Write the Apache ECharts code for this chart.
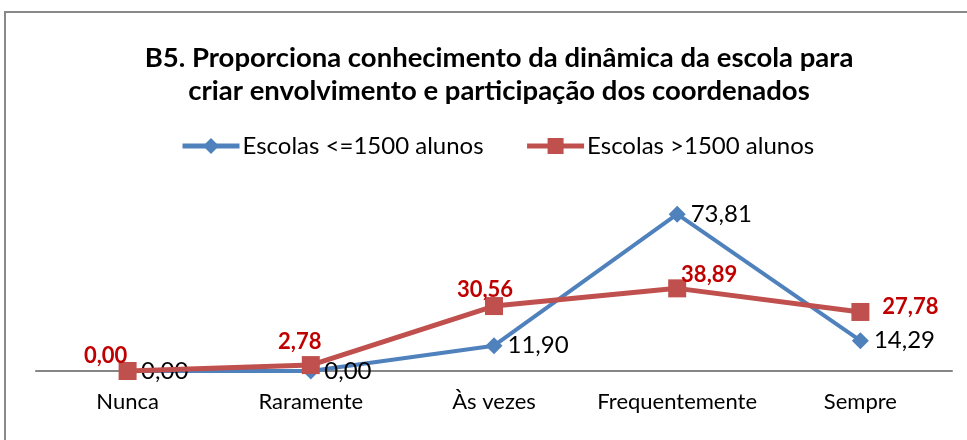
<!DOCTYPE html>
<html>
<head>
<meta charset="utf-8">
<script src="https://cdn.jsdelivr.net/npm/echarts@6/dist/echarts.min.js"></script>
<style>
  html, body { margin: 0; padding: 0; background: #fff; }
  #chart { width: 967px; height: 440px; }
</style>
</head>
<body>
<div id="chart"></div>
<script>
const categories = ['Nunca', 'Raramente', 'Às vezes', 'Frequentemente', 'Sempre']
const seriesNames = ['Escolas <=1500 alunos', 'Escolas >1500 alunos']
const smallSchools = [0.00, 0.00, 11.90, 73.81, 14.29]
const bigSchools = [0.00, 2.78, 30.56, 38.89, 27.78]

// where each red label sits relative to its marker
const bigLabelOffsets = [[-22, -15], [-11, -23], [-9, -16], [32, -13], [50, -5]]

const fontFamily = 'Lato, "Open Sans", sans-serif'
const fmt = (v) => v.toFixed(2).replace('.', ',')

const chart = echarts.init(document.getElementById('chart'), null, { renderer: 'canvas' })

chart.setOption({
  animation: false,
  backgroundColor: '#fff',
  graphic: [{
    type: 'rect',
    shape: { x: 5, y: 12, width: 1000, height: 500 },
    style: { fill: 'none', stroke: '#898989', lineWidth: 2 },
    silent: true
  }],
  title: {
    text: 'B5. Proporciona conhecimento da dinâmica da escola para\ncriar envolvimento e participação dos coordenados',
    left: 494,
    textAlign: 'center',
    top: 37,
    textStyle: {
      fontFamily,
      fontSize: 27.5,
      fontWeight: 'bold',
      color: '#000',
      lineHeight: 33
    }
  },
  legend: {
    data: [
      { name: seriesNames[0], lineStyle: { width: 5 } },
      { name: seriesNames[1], lineStyle: { width: 5 } }
    ],
    left: 175,
    top: 129,
    itemWidth: 57,
    itemHeight: 20,
    itemGap: 41,
    textStyle: { fontFamily, fontSize: 24, color: '#000', padding: [0, 0, 0, -2] }
  },
  grid: {
    left: 36,
    right: 15,
    top: 201,
    bottom: 69
  },
  xAxis: {
    type: 'category',
    data: categories,
    boundaryGap: true,
    axisLine: { lineStyle: { color: '#868686', width: 2 } },
    axisTick: { show: false },
    axisLabel: { interval: 0, hideOverlap: false, fontFamily, fontSize: 22, color: '#000', margin: 20 }
  },
  yAxis: {
    type: 'value',
    min: 0,
    max: 80,
    show: false,
    splitLine: { show: false }
  },
  series: [{
    name: seriesNames[0],
    type: 'line',
    data: smallSchools,
    symbol: 'diamond',
    symbolSize: 17,
    itemStyle: { color: '#4F81BD' },
    lineStyle: { color: '#4F81BD', width: 4 },
    label: {
      show: true,
      position: 'right',
      distance: 5,
      fontFamily,
      fontSize: 24,
      color: '#000',
      formatter: (p) => fmt(p.value)
    },
    z: 2
  }, {
    name: seriesNames[1],
    type: 'line',
    data: bigSchools.map((v, i) => ({ value: v, label: { offset: bigLabelOffsets[i] } })),
    symbol: 'rect',
    symbolSize: 18,
    itemStyle: { color: '#C0504D' },
    lineStyle: { color: '#C0504D', width: 5 },
    label: {
      show: true,
      position: 'inside',
      fontFamily,
      fontSize: 22,
      fontWeight: 'bold',
      color: '#C00000',
      formatter: (p) => fmt(p.value)
    },
    z: 3
  }]
})
</script>
</body>
</html>
